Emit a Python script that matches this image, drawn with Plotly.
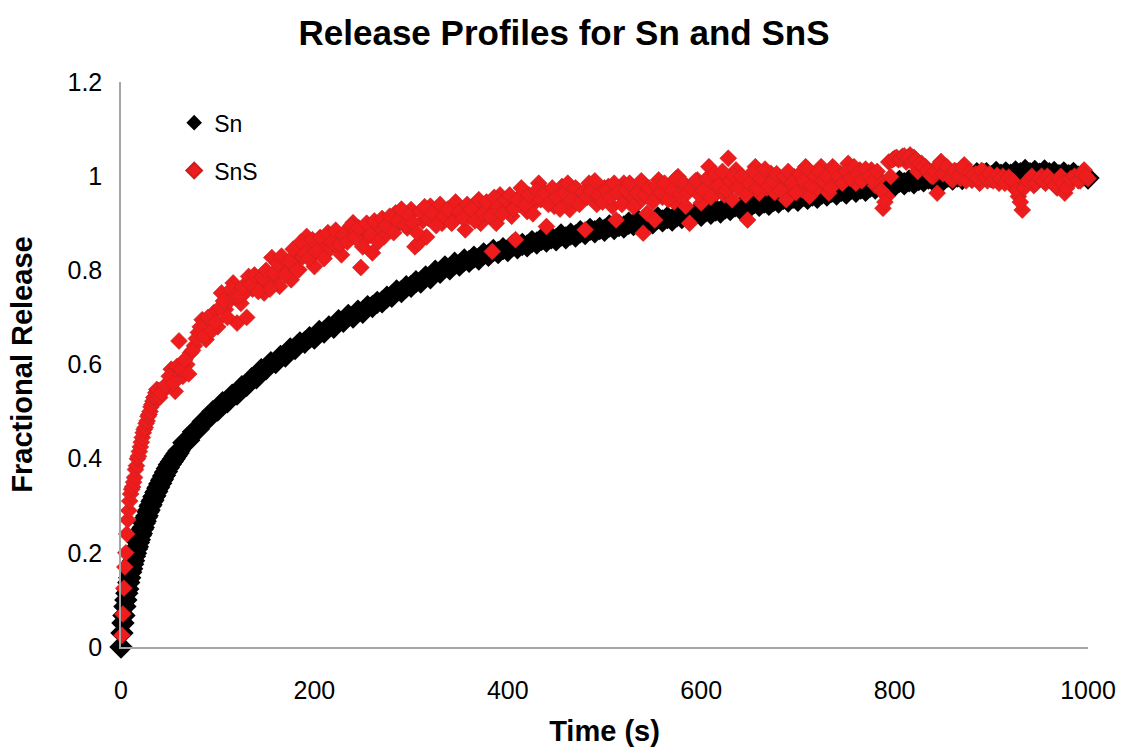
import plotly.graph_objects as go

# ---------------- data ----------------
sn_time = [0, 1, 2, 3, 4, 5, 6, 7, 8, 9, 10,
    11, 12, 13, 14, 15, 16, 17, 18, 19, 20,
    21, 22, 23, 24, 25, 26, 27, 28, 29, 30,
    31, 32, 33, 34, 35, 36, 37, 38, 39, 40,
    41, 42, 43, 44, 45, 46, 47, 48, 49, 50,
    51, 52, 53, 54, 55, 56, 57, 58, 59, 60,
    65, 70, 75, 80, 85, 90, 95, 100,
    105, 110, 115, 120, 125, 130, 135, 140, 145, 150,
    155, 160, 165, 170, 175, 180, 185, 190, 195, 200,
    205, 210, 215, 220, 225, 230, 235, 240, 245, 250,
    255, 260, 265, 270, 275, 280, 285, 290, 295, 300,
    305, 310, 315, 320, 325, 330, 335, 340, 345, 350,
    355, 360, 365, 370, 375, 380, 385, 390, 395, 400,
    405, 410, 415, 420, 425, 430, 435, 440, 445, 450,
    455, 460, 465, 470, 475, 480, 485, 490, 495, 500,
    505, 510, 515, 520, 525, 530, 535, 540, 545, 550,
    555, 560, 565, 570, 575, 580, 585, 590, 595, 600,
    605, 610, 615, 620, 625, 630, 635, 640, 645, 650,
    655, 660, 665, 670, 675, 680, 685, 690, 695, 700,
    705, 710, 715, 720, 725, 730, 735, 740, 745, 750,
    755, 760, 765, 770, 775, 780, 785, 790, 795, 800,
    805, 810, 815, 820, 825, 830, 835, 840, 845, 850,
    855, 860, 865, 870, 875, 880, 885, 890, 895, 900,
    905, 910, 915, 920, 925, 930, 935, 940, 945, 950,
    955, 960, 965, 970, 975, 980, 985, 990, 995, 1000]
sn_release = [0.000, 0.030, 0.051, 0.067, 0.086, 0.100, 0.114, 0.123, 0.137, 0.147, 0.159,
    0.166, 0.176, 0.183, 0.193, 0.199, 0.208, 0.213, 0.222, 0.228, 0.237,
    0.241, 0.250, 0.254, 0.263, 0.267, 0.275, 0.279, 0.287, 0.291, 0.299,
    0.302, 0.309, 0.312, 0.319, 0.321, 0.328, 0.331, 0.337, 0.340, 0.346,
    0.348, 0.354, 0.357, 0.363, 0.365, 0.371, 0.373, 0.379, 0.381, 0.387,
    0.388, 0.393, 0.394, 0.399, 0.400, 0.405, 0.406, 0.411, 0.412, 0.417,
    0.434, 0.439, 0.457, 0.463, 0.479, 0.485, 0.500, 0.503,
    0.519, 0.521, 0.535, 0.537, 0.553, 0.556, 0.570, 0.572, 0.589, 0.591,
    0.604, 0.604, 0.617, 0.618, 0.633, 0.634, 0.646, 0.647, 0.657, 0.656,
    0.670, 0.669, 0.680, 0.679, 0.693, 0.692, 0.704, 0.701, 0.713, 0.711,
    0.723, 0.723, 0.732, 0.733, 0.743, 0.745, 0.756, 0.755, 0.765, 0.766,
    0.776, 0.775, 0.786, 0.784, 0.798, 0.796, 0.807, 0.803, 0.815, 0.811,
    0.822, 0.819, 0.828, 0.824, 0.835, 0.832, 0.842, 0.838, 0.846, 0.842,
    0.853, 0.848, 0.855, 0.852, 0.861, 0.858, 0.866, 0.862, 0.869, 0.865,
    0.875, 0.869, 0.877, 0.873, 0.882, 0.878, 0.887, 0.882, 0.889, 0.885,
    0.894, 0.889, 0.895, 0.892, 0.900, 0.897, 0.904, 0.900, 0.906, 0.901,
    0.911, 0.905, 0.912, 0.907, 0.916, 0.912, 0.920, 0.915, 0.922, 0.917,
    0.927, 0.921, 0.928, 0.924, 0.933, 0.929, 0.937, 0.932, 0.939, 0.935,
    0.944, 0.938, 0.945, 0.940, 0.949, 0.945, 0.953, 0.947, 0.955, 0.949,
    0.959, 0.953, 0.960, 0.955, 0.964, 0.960, 0.968, 0.962, 0.970, 0.964,
    0.974, 0.968, 0.975, 0.970, 0.979, 0.975, 0.983, 0.977, 0.985, 0.980,
    0.989, 0.984, 0.990, 0.986, 0.993, 0.990, 0.996, 0.991, 0.997, 0.992,
    1.000, 0.994, 1.000, 0.995, 1.002, 0.998, 1.005, 0.999, 1.005, 0.999,
    1.008, 1.002, 1.007, 1.002, 1.009, 1.005, 1.012, 1.005, 1.010, 1.004,
    1.011, 1.005, 1.008, 1.001, 1.007, 1.001, 1.006, 0.998, 1.003, 0.996]

# SnS: first pass of samples (1 s early, then every 4 s)
sns_time = [1, 2, 3, 4, 5, 6, 7, 8, 9, 10,
    11, 12, 13, 14, 15, 16, 17, 18, 19, 20,
    21, 22, 23, 24, 25, 26, 27, 28, 29, 30,
    31, 32, 33, 34, 35, 36, 37, 38, 39,
    40, 44, 48, 52, 56, 60, 64, 68, 72, 76,
    80, 84, 88, 92, 96, 100, 104, 108, 112, 116,
    120, 124, 128, 132, 136, 140, 144, 148, 152, 156,
    160, 164, 168, 172, 176, 180, 184, 188, 192, 196,
    200, 204, 208, 212, 216, 220, 224, 228, 232, 236,
    240, 244, 248, 252, 256, 260, 264, 268, 272, 276,
    280, 284, 288, 292, 296, 300, 304, 308, 312, 316,
    320, 324, 328, 332, 336, 340, 344, 348, 352, 356,
    360, 364, 368, 372, 376, 380, 384, 388, 392, 396,
    400, 404, 408, 412, 416, 420, 424, 428, 432, 436,
    440, 444, 448, 452, 456, 460, 464, 468, 472, 476,
    480, 484, 488, 492, 496, 500, 504, 508, 512, 516,
    520, 524, 528, 532, 536, 540, 544, 548, 552, 556,
    560, 564, 568, 572, 576, 580, 584, 588, 592, 596,
    600, 604, 608, 612, 616, 620, 624, 628, 632, 636,
    640, 644, 648, 652, 656, 660, 664, 668, 672, 676,
    680, 684, 688, 692, 696, 700, 704, 708, 712, 716,
    720, 724, 728, 732, 736, 740, 744, 748, 752, 756,
    760, 764, 768, 772, 776, 780, 784, 788, 792, 796,
    800, 804, 808, 812, 816, 820, 824, 828, 832, 836,
    840, 844, 848, 852, 856, 860, 864, 868, 872, 876,
    880, 884, 888, 892, 896, 900, 904, 908, 912, 916,
    920, 924, 928, 932, 936, 940, 944, 948, 952, 956,
    960, 964, 968, 972, 976, 980, 984, 988, 992, 996,
    1000]
sns_release = [0.025, 0.070, 0.125, 0.170, 0.200, 0.240, 0.270, 0.290, 0.310, 0.325,
    0.335, 0.340, 0.350, 0.360, 0.377, 0.385, 0.400, 0.405, 0.415, 0.425,
    0.435, 0.445, 0.455, 0.462, 0.466, 0.475, 0.480, 0.490, 0.494, 0.500,
    0.510, 0.515, 0.522, 0.530, 0.532, 0.540, 0.547, 0.535, 0.545,
    0.530, 0.547, 0.560, 0.590, 0.543, 0.650, 0.575, 0.600, 0.625, 0.640,
    0.668, 0.695, 0.653, 0.695, 0.710, 0.680, 0.752, 0.717, 0.735, 0.773,
    0.688, 0.730, 0.752, 0.787, 0.760, 0.780, 0.770, 0.752, 0.773, 0.827,
    0.790, 0.766, 0.808, 0.795, 0.780, 0.820, 0.801, 0.829, 0.872, 0.850,
    0.808, 0.850, 0.855, 0.869, 0.845, 0.865, 0.850, 0.833, 0.882, 0.870,
    0.901, 0.880, 0.806, 0.865, 0.885, 0.837, 0.893, 0.880, 0.871, 0.905,
    0.895, 0.922, 0.901, 0.921, 0.890, 0.929, 0.850, 0.858, 0.905, 0.871,
    0.936, 0.910, 0.925, 0.900, 0.914, 0.930, 0.905, 0.936, 0.920, 0.886,
    0.915, 0.936, 0.925, 0.900, 0.921, 0.935, 0.840, 0.900, 0.960, 0.930,
    0.943, 0.915, 0.865, 0.940, 0.964, 0.925, 0.936, 0.955, 0.985, 0.971,
    0.893, 0.955, 0.936, 0.960, 0.978, 0.945, 0.929, 0.960, 0.971, 0.950,
    0.886, 0.985, 0.960, 0.940, 0.950, 0.975, 0.978, 0.936, 0.907, 0.965,
    0.985, 0.950, 0.957, 0.975, 0.945, 0.879, 0.921, 0.960, 0.907, 0.992,
    0.955, 0.964, 0.980, 0.945, 0.999, 0.970, 0.936, 0.900, 0.975, 0.992,
    0.943, 0.985, 1.020, 0.975, 0.964, 0.992, 0.960, 1.038, 0.950, 1.013,
    0.992, 0.970, 0.907, 0.985, 1.020, 0.964, 0.990, 0.975, 1.006, 0.965,
    0.985, 0.995, 0.950, 0.975, 0.999, 0.985, 0.971, 1.020, 0.957, 0.990,
    0.975, 1.020, 0.985, 0.964, 1.020, 0.990, 1.005, 0.999, 1.027, 1.000,
    0.985, 1.013, 0.995, 1.005, 1.013, 0.980, 0.995, 0.932, 0.957, 0.999,
    1.038, 1.035, 1.042, 1.030, 1.045, 1.040, 1.010, 1.027, 1.020, 1.005,
    0.999, 0.964, 1.031, 1.015, 1.000, 0.992, 1.010, 0.995, 1.024, 1.000,
    0.992, 1.005, 0.985, 1.010, 0.990, 1.000, 0.996, 0.985, 1.000, 0.990,
    0.985, 0.975, 0.957, 0.928, 0.985, 0.995, 0.980, 0.992, 1.000, 0.985,
    0.995, 0.985, 0.975, 1.000, 0.964, 0.985, 0.992, 0.996, 0.990, 1.013,
    0.995]

# SnS: interleaved samples (every 4 s, offset by 2 s)
sns_time_b = [42, 46, 50, 54, 58, 62, 66, 70, 74, 78,
    82, 86, 90, 94, 98, 102, 106, 110, 114, 118,
    122, 126, 130, 134, 138, 142, 146, 150, 154, 158,
    162, 166, 170, 174, 178, 182, 186, 190, 194, 198,
    202, 206, 210, 214, 218, 222, 226, 230, 234, 238,
    242, 246, 250, 254, 258, 262, 266, 270, 274, 278,
    282, 286, 290, 294, 298, 302, 306, 310, 314, 318,
    322, 326, 330, 334, 338, 342, 346, 350, 354, 358,
    362, 366, 370, 374, 378, 382, 386, 390, 394, 398,
    402, 406, 410, 414, 418, 422, 426, 430, 434, 438,
    442, 446, 450, 454, 458, 462, 466, 470, 474, 478,
    482, 486, 490, 494, 498, 502, 506, 510, 514, 518,
    522, 526, 530, 534, 538, 542, 546, 550, 554, 558,
    562, 566, 570, 574, 578, 582, 586, 590, 594, 598,
    602, 606, 610, 614, 618, 622, 626, 630, 634, 638,
    642, 646, 650, 654, 658, 662, 666, 670, 674, 678,
    682, 686, 690, 694, 698, 702, 706, 710, 714, 718,
    722, 726, 730, 734, 738, 742, 746, 750, 754, 758,
    762, 766, 770, 774, 778, 782, 786, 790, 794, 798,
    802, 806, 810, 814, 818, 822, 826, 830, 834, 838,
    842, 846, 850, 854, 858, 862, 866, 870, 874, 878,
    882, 886, 890, 894, 898, 902, 906, 910, 914, 918,
    922, 926, 930, 934, 938, 942, 946, 950, 954, 958,
    962, 966, 970, 974, 978, 982, 986, 990, 994, 998]
sns_release_b = [0.540, 0.555, 0.575, 0.560, 0.596, 0.590, 0.610, 0.580, 0.630, 0.655,
    0.680, 0.660, 0.700, 0.672, 0.690, 0.720, 0.735, 0.700, 0.760, 0.745,
    0.745, 0.765, 0.700, 0.770, 0.790, 0.755, 0.785, 0.800, 0.760, 0.795,
    0.815, 0.830, 0.790, 0.820, 0.845, 0.800, 0.860, 0.835, 0.825, 0.865,
    0.840, 0.870, 0.825, 0.880, 0.860, 0.885, 0.855, 0.875, 0.860, 0.895,
    0.870, 0.890, 0.850, 0.900, 0.875, 0.905, 0.860, 0.910, 0.895, 0.915,
    0.880, 0.905, 0.930, 0.895, 0.915, 0.900, 0.880, 0.925, 0.935, 0.910,
    0.920, 0.895, 0.940, 0.915, 0.930, 0.900, 0.945, 0.925, 0.910, 0.940,
    0.930, 0.905, 0.950, 0.920, 0.945, 0.915, 0.955, 0.935, 0.920, 0.950,
    0.960, 0.930, 0.950, 0.975, 0.940, 0.960, 0.920, 0.970, 0.950, 0.965,
    0.940, 0.975, 0.955, 0.930, 0.965, 0.985, 0.950, 0.975, 0.940, 0.965,
    0.955, 0.970, 0.990, 0.960, 0.945, 0.970, 0.955, 0.985, 0.965, 0.940,
    0.970, 0.985, 0.935, 0.965, 0.990, 0.960, 0.975, 0.945, 0.980, 0.965,
    0.985, 0.950, 0.970, 0.995, 0.960, 0.985, 0.965, 0.975, 0.990, 0.960,
    0.970, 0.995, 0.955, 1.005, 0.980, 1.010, 0.970, 0.990, 1.000, 0.975,
    1.000, 0.960, 0.985, 1.010, 0.975, 0.995, 1.015, 0.980, 0.990, 1.005,
    0.970, 1.000, 1.010, 0.985, 0.965, 1.005, 0.990, 1.015, 0.980, 1.000,
    1.010, 0.990, 1.000, 0.975, 1.015, 1.000, 0.985, 1.010, 0.995, 1.020,
    1.005, 0.990, 1.015, 1.000, 0.990, 1.010, 0.970, 0.945, 1.030, 1.035,
    1.040, 1.037, 1.043, 1.040, 1.030, 1.035, 1.025, 1.020, 1.012, 1.000,
    1.010, 1.025, 1.005, 1.020, 0.995, 1.012, 1.000, 1.018, 0.990, 1.008,
    1.002, 0.995, 1.012, 0.998, 1.005, 0.990, 1.002, 0.995, 0.985, 0.998,
    0.990, 0.970, 0.945, 0.975, 0.990, 1.000, 0.985, 0.995, 0.990, 1.000,
    0.990, 0.980, 0.995, 0.985, 0.975, 0.995, 1.000, 0.990, 1.005, 1.000]

y_ticks = [0, 0.2, 0.4, 0.6, 0.8, 1, 1.2]
y_tick_text = ["0", "0.2", "0.4", "0.6", "0.8", "1", "1.2"]
x_ticks = [0, 200, 400, 600, 800, 1000]
x_tick_text = ["0", "200", "400", "600", "800", "1000"]

# ---------------- figure ----------------
fig = go.Figure()
fig.add_trace(go.Scatter(
    x=sn_time, y=sn_release, mode="markers", name="Sn", legendgroup="a",
    marker=dict(symbol="diamond", size=18, color="#000000",
                line=dict(width=0)),
    cliponaxis=False,
))
fig.add_trace(go.Scatter(
    x=sns_time + sns_time_b, y=sns_release + sns_release_b,
    mode="markers", name="SnS", legendgroup="b",
    marker=dict(symbol="diamond", size=13, color="#ee1c1c",
                line=dict(width=0.6, color="#c42020")),
    cliponaxis=False,
))

font_family = "Liberation Sans, Arial, sans-serif"
fig.update_layout(
    width=1128, height=754,
    paper_bgcolor="white", plot_bgcolor="white",
    margin=dict(l=121, r=32, t=82, b=106),
    title=dict(text="<b>Release Profiles for Sn and SnS</b>",
               x=0.5, xanchor="center", y=0.957, yanchor="middle",
               font=dict(family=font_family, size=35, color="#000000")),
    font=dict(family=font_family, color="#000000"),
    showlegend=True,
    legend=dict(x=0.055, y=0.966, xanchor="left", yanchor="top",
                bgcolor="rgba(0,0,0,0)", traceorder="grouped",
                tracegroupgap=15, itemwidth=30, itemsizing="constant",
                font=dict(family=font_family, size=23, color="#000000")),
    xaxis=dict(range=[0, 1000], tickmode="array", tickvals=x_ticks,
               ticktext=x_tick_text, showgrid=False, zeroline=False,
               showline=True, linecolor="#a6a6a6", linewidth=1.5,
               ticks="", ticklabelstandoff=20,
               tickfont=dict(family=font_family, size=25, color="#000000"),
               title=dict(text="<b>Time (s)</b>", standoff=18,
                          font=dict(family=font_family, size=29, color="#000000"))),
    yaxis=dict(range=[0, 1.2], tickmode="array", tickvals=y_ticks,
               ticktext=y_tick_text, showgrid=False, zeroline=False,
               showline=True, linecolor="#a6a6a6", linewidth=1.5,
               ticks="", ticklabelstandoff=12,
               tickfont=dict(family=font_family, size=25, color="#000000"),
               title=dict(text="<b>Fractional Release</b>", standoff=26,
                          font=dict(family=font_family, size=29, color="#000000"))),
)

fig.write_html("out.html")
